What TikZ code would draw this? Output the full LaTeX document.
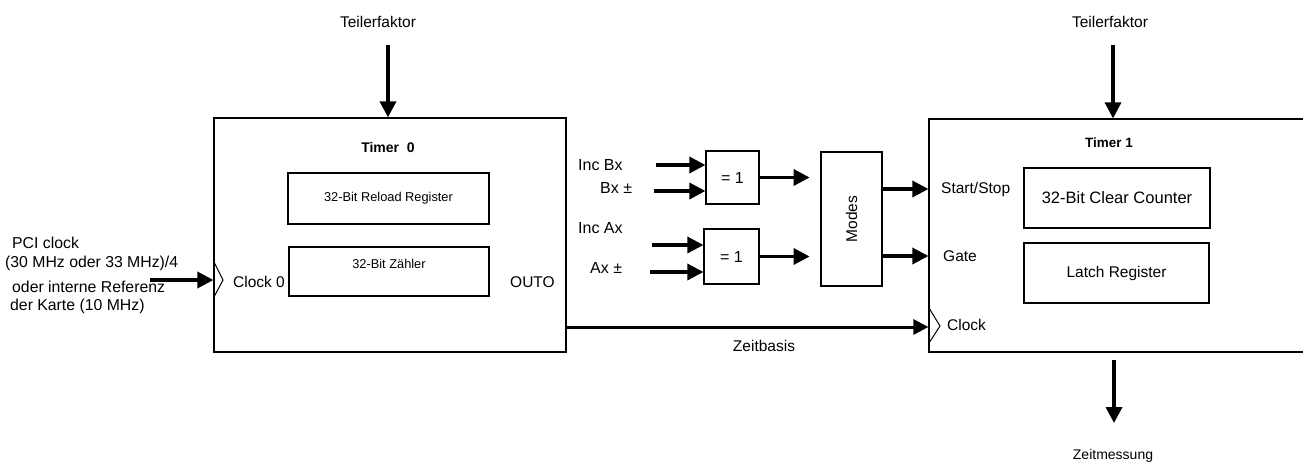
\documentclass[tikz,border=0pt]{standalone}
\usepackage{fontspec}
\setmainfont{Liberation Sans}
\usetikzlibrary{arrows.meta}
\tikzset{
  box/.style={draw, line width=1.2pt, inner sep=0pt},
  lbl/.style={inner sep=0pt, font=\fontsize{15.5}{18}\selectfont},
  bigarrow/.style={line width=3.4pt, -{Triangle[length=16pt,width=16pt]}},
  midarrow/.style={line width=3pt, -{Triangle[length=15pt,width=15pt]}},
  clk/.style={line width=1pt}
}
\begin{document}
\begin{tikzpicture}[x=1pt,y=-1pt]
\useasboundingbox (0,0) rectangle (1303,466);
\clip (0,0) rectangle (1303,466);
% main boxes
\node[box, minimum width=352pt, minimum height=234pt] (t0) at (390,235) {};
\node[box, minimum width=201pt, minimum height=51pt] (reload) at (388.5,198.5) {};
\node[lbl, font=\fontsize{12.8}{15}\selectfont] at (reload.center) {32-Bit Reload Register};
\node[box, minimum width=200pt, minimum height=49pt] (zaehler) at (389,271.5) {};
\node[lbl, font=\fontsize{12.8}{15}\selectfont] at (389,264) {32-Bit Zähler};
\node[lbl, font=\fontsize{14}{16}\bfseries] (t0title) at (388,147) {Timer\ \ 0};
\node[lbl, anchor=west] (clk0) at (233,282) {Clock 0};
\node[lbl, anchor=west] (out0) at (510,282) {OUTO};

\node[box, minimum width=390pt, minimum height=233pt] (t1) at (1124,235.5) {};
\node[lbl, font=\fontsize{13.5}{16}\bfseries] (t1title) at (1109,143) {Timer 1};
\node[box, minimum width=186pt, minimum height=60pt] (clear) at (1117,198) {};
\node[lbl, font=\fontsize{16.5}{19}\selectfont] at (clear.center) {32-Bit Clear Counter};
\node[box, minimum width=185pt, minimum height=60pt] (latch) at (1116.5,273) {};
\node[lbl, font=\fontsize{15.5}{18}\selectfont] at (latch.center) {Latch Register};
\node[lbl, anchor=west] (startstop) at (941,189) {Start/Stop};
\node[lbl, anchor=west] (gate) at (943,256) {Gate};
\node[lbl, anchor=west] (clk1) at (947,325) {Clock};

% XOR gates and modes
\node[box, minimum width=53pt, minimum height=53pt] (x1) at (732.5,177.5) {};
\node[lbl, font=\fontsize{16}{18}\selectfont] at (x1.center) {= 1};
\node[box, minimum width=55pt, minimum height=55pt] (x2) at (731.5,256.5) {};
\node[lbl, font=\fontsize{16}{18}\selectfont] at (x2.center) {= 1};
\node[box, minimum width=61pt, minimum height=134pt] (modes) at (851.5,219) {};
\node[lbl, rotate=90] at (modes.center) {Modes};

\node[lbl, anchor=west, font=\fontsize{16}{18}\selectfont] (incbx) at (578,165) {Inc Bx};
\node[lbl, anchor=west, font=\fontsize{16}{18}\selectfont] (bx) at (600,188) {Bx ±};
\node[lbl, anchor=west, font=\fontsize{16}{18}\selectfont] (incax) at (578,228) {Inc Ax};
\node[lbl, anchor=west, font=\fontsize{16}{18}\selectfont] (ax) at (590,268) {Ax ±};

% top and bottom labels
\node[lbl] (teil0) at (378,22) {Teilerfaktor};
\node[lbl] (teil1) at (1110,22) {Teilerfaktor};
\node[lbl, font=\fontsize{14}{16}\selectfont] (zeitm) at (1113,456) {Zeitmessung};
\node[lbl] (zeitb) at (764,346) {Zeitbasis};

% left labels
\node[lbl, anchor=west, font=\fontsize{15.8}{18}\selectfont] (pci1) at (12,243) {PCI clock};
\node[lbl, anchor=west, font=\fontsize{15.8}{18}\selectfont] (pci2) at (5,263) {(30 MHz oder 33 MHz)/4};
\node[lbl, anchor=west, font=\fontsize{15.8}{18}\selectfont] (pci3) at (12,287) {oder interne Referenz};
\node[lbl, anchor=west, font=\fontsize{15.8}{18}\selectfont] (pci4) at (10,306) {der Karte (10 MHz)};

% clock triangles
\draw[clk] (214,262) -- (223,280) -- (214,297);
\draw[clk] (929,308) -- (940,326) -- (929,343);

% free-end coordinates
\coordinate (a0s) at (388,45);
\coordinate (a1s) at (1113,45);
\coordinate (pcis) at (150,280);
\coordinate (zms) at (1114,360);
\coordinate (zme) at (1114,423);
\coordinate (ib1) at (656,165);
\coordinate (ib2) at (654,191);
\coordinate (ia1) at (652,245);
\coordinate (ia2) at (650,272);
\coordinate (o0) at (566,327);

% arrows
\draw[bigarrow] (a0s) -- (a0s |- t0.north);
\draw[bigarrow] (a1s) -- (a1s |- t1.north);
\draw[bigarrow] (pcis) -- (pcis -| t0.west);
\draw[bigarrow] (zms) -- (zme);
\draw[bigarrow] (ib1) -- (ib1 -| x1.west);
\draw[bigarrow] (ib2) -- (ib2 -| x1.west);
\draw[bigarrow] (ia1) -- (ia1 -| x2.west);
\draw[bigarrow] (ia2) -- (ia2 -| x2.west);
\draw[bigarrow] (x1.east) -- ++(50,0);
\draw[bigarrow] (x2.east) -- ++(50,0);
\draw[bigarrow] (modes.east |- 0,189) -- (t1.west |- 0,189);
\draw[bigarrow] (modes.east |- 0,256) -- (t1.west |- 0,256);
\draw[midarrow] (o0) -- (o0 -| t1.west);
\end{tikzpicture}
\end{document}
